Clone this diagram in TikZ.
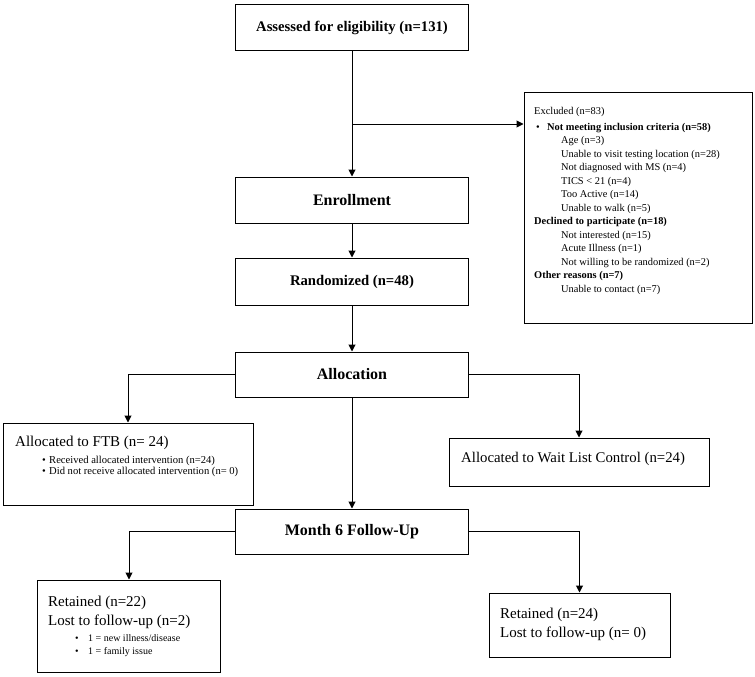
\documentclass[tikz,border=0pt]{standalone}
\usepackage{fontspec}
\setmainfont{Liberation Serif}
\usetikzlibrary{arrows.meta}
\tikzset{
  box/.style={draw, line width=1pt, rectangle, inner sep=0pt},
  conn/.style={line width=1pt},
  arr/.style={conn, -{Triangle[width=7pt,length=7pt]}},
  txt/.style={inner sep=0pt, anchor=west, align=left},
  head/.style={font=\fontsize{16}{18}\selectfont\bfseries},
  headsm/.style={font=\fontsize{14.7}{16}\selectfont\bfseries},
}
\begin{document}
\begin{tikzpicture}[x=1pt,y=-1pt]
\useasboundingbox[fill=white] (0,0) rectangle (755,677);
% main column
\node[box, headsm, minimum width=233pt, minimum height=46pt] (assess) at (352,28) {Assessed for eligibility (n=131)};
\node[box, minimum width=228pt, minimum height=231pt] (excl) at (638,207.5) {};
\node[box, head, minimum width=233pt, minimum height=46pt] (enroll) at (352,200) {Enrollment};
\node[box, headsm, minimum width=233pt, minimum height=47pt] (rand) at (352,281.5) {Randomized (n=48)};
\node[box, head, minimum width=233pt, minimum height=45pt] (alloc) at (352,374.5) {Allocation};
\node[box, minimum width=250pt, minimum height=82pt] (ftb) at (128,464) {};
\node[box, minimum width=260pt, minimum height=48pt] (wait) at (579,462) {};
\node[box, head, minimum width=233pt, minimum height=45pt] (m6) at (352,531.5) {Month 6 Follow-Up};
\node[box, minimum width=183pt, minimum height=92pt] (retL) at (129,626) {};
\node[box, minimum width=181pt, minimum height=64pt] (retR) at (579.5,625) {};

% excluded text
\node[txt, anchor=north west, font=\fontsize{10.4}{13.5}\selectfont] (excltxt) at (534,107) {%
Excluded (n=83)\\[2.5pt]
\makebox[13pt][l]{\hspace{2pt}•}\textbf{Not meeting inclusion criteria (n=58)}\\
\hspace{27pt}Age (n=3)\\
\hspace{27pt}Unable to visit testing location (n=28)\\
\hspace{27pt}Not diagnosed with MS (n=4)\\
\hspace{27pt}TICS < 21 (n=4)\\
\hspace{27pt}Too Active (n=14)\\
\hspace{27pt}Unable to walk (n=5)\\
\textbf{Declined to participate (n=18)}\\
\hspace{27pt}Not interested (n=15)\\
\hspace{27pt}Acute Illness (n=1)\\
\hspace{27pt}Not willing to be randomized (n=2)\\
\textbf{Other reasons (n=7)}\\
\hspace{27pt}Unable to contact (n=7)};

% FTB text
\node[txt, font=\fontsize{15}{17}\selectfont] (ftbtitle) at (15,443) {Allocated to FTB (n= 24)};
\node[txt, font=\fontsize{10.6}{11.8}\selectfont] (ftbitems) at (42,466.5) {%
\makebox[7pt][l]{•}Received allocated intervention (n=24)\\
\makebox[7pt][l]{•}Did not receive allocated intervention (n= 0)};

% wait list text
\node[txt, font=\fontsize{14.8}{17}\selectfont] (waittxt) at (461,459) {Allocated to Wait List Control (n=24)};

% retained left
\node[txt, font=\fontsize{15}{19}\selectfont] (retLtxt) at (48,612.5) {Retained (n=22)\\Lost to follow-up (n=2)};
\node[txt, font=\fontsize{10}{13}\selectfont] (retLitems) at (75,646) {%
\makebox[13pt][l]{•}1 = new illness/disease\\
\makebox[13pt][l]{•}1 = family issue};

% retained right
\node[txt, font=\fontsize{15}{19}\selectfont] (retRtxt) at (500,624.5) {Retained (n=24)\\Lost to follow-up (n= 0)};

% connectors
\coordinate (br) at (352,124);
\draw[arr] (assess) -- (enroll);
\draw[arr] (br) -- (br -| excl.west);
\draw[arr] (enroll) -- (rand);
\draw[arr] (rand) -- (alloc);
\draw[arr] (alloc.west) -| (ftb.north);
\draw[arr] (alloc.east) -| (wait.north);
\draw[arr] (alloc) -- (m6);
\draw[arr] (m6.west) -| (retL.north);
\draw[arr] (m6.east) -| (retR.north);
\end{tikzpicture}
\end{document}
